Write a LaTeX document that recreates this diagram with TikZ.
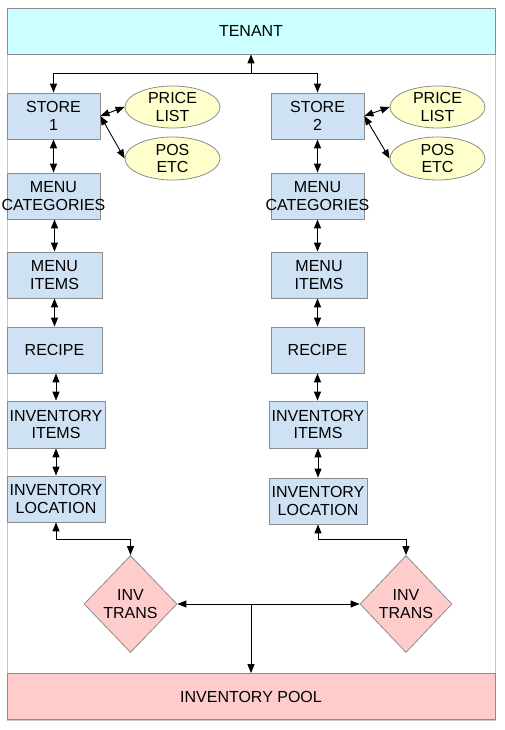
\documentclass[tikz,border=0pt]{standalone}
\usepackage{fontspec}
\setmainfont{Liberation Sans}
\usetikzlibrary{arrows.meta,shapes.geometric}
\definecolor{tenantfill}{HTML}{CCFFFF}
\definecolor{boxfill}{HTML}{CFE2F3}
\definecolor{ellfill}{HTML}{FFFFCC}
\definecolor{pinkfill}{HTML}{FFCCCC}
\definecolor{edgegray}{HTML}{8C8C8C}
\definecolor{framegray}{HTML}{C8C8C8}
\tikzset{
  txt/.style={inner sep=0pt, align=center, font=\fontsize{16}{17.5}\selectfont},
  base/.style={txt, draw=edgegray, line width=0.8pt},
  bluebox/.style={base, rectangle, fill=boxfill, minimum width=93pt, minimum height=46pt},
  wide/.style={base, rectangle, minimum width=488pt, minimum height=46pt},
  oval/.style={base, ellipse, fill=ellfill, minimum width=95pt, minimum height=42pt},
  dia/.style={base, diamond, fill=pinkfill, minimum width=93pt, minimum height=97pt},
  arr/.style={line width=0.9pt, -{Triangle[length=9pt,width=7pt]}},
  dbl/.style={line width=0.9pt, {Triangle[length=9pt,width=7pt]}-{Triangle[length=9pt,width=7pt]}},
}
\begin{document}
\begin{tikzpicture}[x=1pt,y=-1pt]
\useasboundingbox (0,0) rectangle (505,730);
\fill[white] (0,0) rectangle (505,730);
\draw[framegray, line width=0.8pt] (7,8) rectangle (495,720);
% top and bottom
\node[wide, fill=tenantfill] (tenant) at (251,31) {TENANT};
\node[wide, fill=pinkfill] (pool) at (251,696.5) {INVENTORY POOL};
% left column
\node[bluebox] (s1) at (53.5,116) {STORE\\1};
\node[oval] (pl1) at (172.5,107) {PRICE\\LIST};
\node[oval, minimum height=43pt] (pos1) at (172.5,158.5) {POS\\ETC};
\node[bluebox] (mc1) at (53.5,196) {};
\node[txt] (mc1t) at (mc1.center) {MENU\\CATEGORIES};
\node[bluebox, minimum width=95pt] (mi1) at (54.5,275) {MENU\\ITEMS};
\node[bluebox, minimum width=95pt] (r1) at (54.5,350) {RECIPE};
\node[bluebox, minimum width=98pt, minimum height=47pt] (ii1) at (56,424.5) {INVENTORY\\ITEMS};
\node[bluebox, minimum width=98pt] (il1) at (56,499) {INVENTORY\\LOCATION};
\node[dia] (d1) at (130.5,604) {INV\\TRANS};
% right column
\node[bluebox] (s2) at (317.5,116) {STORE\\2};
\node[oval] (pl2) at (437.5,107) {PRICE\\LIST};
\node[oval, minimum height=43pt] (pos2) at (437.5,158.5) {POS\\ETC};
\node[bluebox] (mc2) at (317.5,196) {};
\node[txt] (mc2t) at (mc2.center) {MENU\\CATEGORIES};
\node[bluebox, minimum width=96pt] (mi2) at (319,275) {MENU\\ITEMS};
\node[bluebox] (r2) at (317.5,350) {RECIPE};
\node[bluebox, minimum width=98pt, minimum height=47pt] (ii2) at (318,424.5) {INVENTORY\\ITEMS};
\node[bluebox, minimum width=98pt] (il2) at (318,501) {INVENTORY\\LOCATION};
\node[dia, minimum width=92pt] (d2) at (406,604) {INV\\TRANS};
% junctions
\coordinate (jt) at (251,73);
\coordinate (jb) at (251,604);
% tenant to stores
\draw[arr] (jt) -- (tenant.south);
\draw[arr] (jt) -| (s1.north);
\draw[arr] (jt) -| (s2.north);
% stores to ellipses
\draw[dbl] (s1.east) -- (pl1.west);
\draw[dbl] (s1.east) -- (pos1.west);
\draw[dbl] (s2.east) -- (pl2.west);
\draw[dbl] (s2.east) -- (pos2.west);
% left chain
\draw[dbl] (s1.south) -- (mc1.north);
\draw[dbl] (mi1.north |- mc1.south) -- (mi1.north);
\draw[dbl] (r1.north |- mi1.south) -- (r1.north);
\draw[dbl] (ii1.north |- r1.south) -- (ii1.north);
\draw[dbl] (ii1.south) -- (il1.north);
\draw[dbl] (il1.south) -- ++(0,17) -| (d1.north);
% right chain
\draw[dbl] (s2.south) -- (mc2.north);
\draw[dbl] (mc2.south) -- (mc2.south |- mi2.north);
\draw[dbl] (r2.north |- mi2.south) -- (r2.north);
\draw[dbl] (r2.south) -- (r2.south |- ii2.north);
\draw[dbl] (ii2.south) -- (il2.north);
\draw[dbl] (il2.south) -- ++(0,15) -| (d2.north);
% bottom
\draw[dbl] (d1.east) -- (d2.west);
\draw[arr] (jb) -- (pool.north);
\end{tikzpicture}
\end{document}
